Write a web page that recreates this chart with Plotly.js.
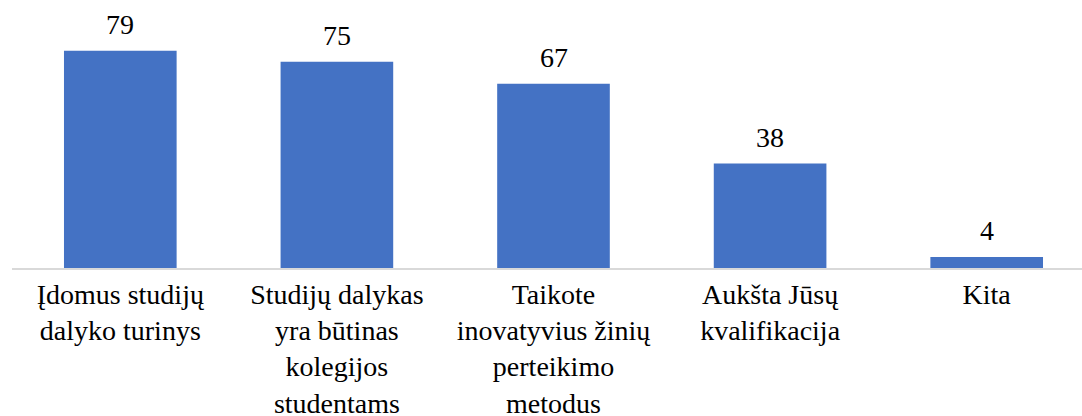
<!DOCTYPE html>
<html>
<head>
<meta charset="utf-8">
<script src="https://cdn.plot.ly/plotly-3.0.1.min.js"></script>
<style>html,body{margin:0;padding:0;background:#fff;}#chart{width:1082px;height:416px;}</style>
</head>
<body>
<div id="chart"></div>
<script>
const categories = [
  "Įdomus studijų<br>dalyko turinys",
  "Studijų dalykas<br>yra būtinas<br>kolegijos<br>studentams",
  "Taikote<br>inovatyvius žinių<br>perteikimo<br>metodus",
  "Aukšta Jūsų<br>kvalifikacija",
  "Kita"
];
const values = [79, 75, 67, 38, 4];
const labels = values.map(String);

const FONT = "Times New Roman, Liberation Serif, Tinos, DejaVu Serif, serif";

const trace = {
  type: "bar",
  x: categories,
  y: values,
  marker: {color: "#4472C4"},
  hoverinfo: "none"
};

const annotations = values.map((v, i) => ({
  x: categories[i],
  y: v,
  xref: "x",
  yref: "y",
  text: labels[i],
  showarrow: false,
  yanchor: "bottom",
  yshift: 9,
  font: {family: FONT, size: 28, color: "#000"}
}));

const layout = {
  width: 1082,
  height: 416,
  margin: {l: 12, r: 0, t: 20, b: 148},
  paper_bgcolor: "#fff",
  plot_bgcolor: "#fff",
  showlegend: false,
  bargap: 0.48,
  font: {family: FONT, size: 28, color: "#000"},
  xaxis: {
    type: "category",
    range: [-0.5, 4.44],
    showline: true,
    linecolor: "#D9D9D9",
    linewidth: 2,
    ticks: "",
    showgrid: false,
    zeroline: false,
    tickfont: {family: FONT, size: 28, color: "#000"},
    automargin: false
  },
  yaxis: {
    range: [0, 90.2],
    visible: false,
    showgrid: false,
    zeroline: false
  },
  annotations: annotations
};

Plotly.newPlot("chart", [trace], layout, {staticPlot: true, displayModeBar: false});
</script>
</body>
</html>
